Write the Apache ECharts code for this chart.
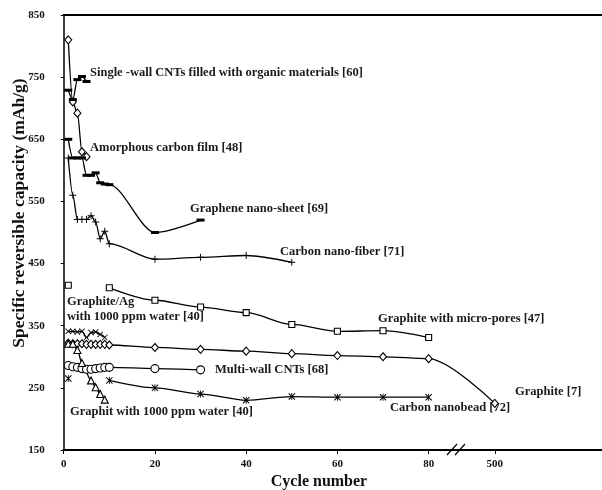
<!DOCTYPE html>
<html><head><meta charset="utf-8">
<script src="https://cdn.jsdelivr.net/npm/echarts@6/dist/echarts.min.js"></script>
<style>html,body{margin:0;padding:0;background:#fff}#c{width:602px;height:490px}</style>
</head><body><div id="c"></div>
<script>
// ---- data ----
const yTickLabels = [150, 250, 350, 450, 550, 650, 750, 850];
const xTickLabels = [0, 20, 40, 60, 80, 500];

const amorphousX = [1, 2, 3, 4, 5];
const amorphousY = [810, 710, 692, 630, 622];

const swcntX = [1, 2, 3, 4, 5];
const swcntY = [729, 714, 746, 751, 743];

const grapheneX = [1, 2, 3, 4, 5, 6, 7, 8, 9, 10, 20, 30];
const grapheneY = [650, 620, 620, 620, 592, 592, 596, 580, 578, 577, 500, 520];

const nanofiberX = [1, 2, 3, 4, 5, 6, 7, 8, 9, 10, 20, 30, 40, 50];
const nanofiberY = [620, 560, 521, 521, 521, 527, 517, 490, 502, 482, 457, 460, 463, 452];

const microporesX = [1, 5, 10, 20, 30, 40, 50, 60, 70, 80];
const microporesY = [415, null, 411, 391, 380, 371, 352, 341, 342, 331];

const graphiteAgX = [1, 2, 3, 4, 5, 6, 7, 8, 9];
const graphiteAgY = [341, 341, 340, 341, 331, 339, 340, 336, 331];

const graphiteX = [1, 2, 3, 4, 5, 6, 7, 8, 9, 10, 20, 30, 40, 50, 60, 70, 80, 500];
const graphiteY = [322, 321, 321, 321, 320, 320, 320, 320, 320, 319, 315, 312, 309, 305, 302, 300, 297, 225];

const mwcntX = [1, 2, 3, 4, 5, 6, 7, 8, 9, 10, 20, 30];
const mwcntY = [286, 284, 283, 281, 280, 280, 281, 282, 283, 283, 281, 279];

const waterX = [1, 2, 3, 4, 6, 7, 8, 9];
const waterY = [321, 321, 311, 290, 262, 251, 240, 231];

const nanobeadX = [1, 5, 10, 20, 30, 40, 50, 60, 70, 80];
const nanobeadY = [265, null, 262, 250, 240, 230, 236, 235, 235, 235];

const annotations = [
  'Single -wall CNTs filled with organic materials [60]',
  'Amorphous carbon film [48]',
  'Graphene nano-sheet [69]',
  'Carbon nano-fiber [71]',
  'Graphite/Ag',
  'with 1000 ppm water [40]',
  'Graphite with micro-pores [47]',
  'Multi-wall CNTs [68]',
  'Graphite [7]',
  'Carbon nanobead [72]',
  'Graphit with 1000 ppm water [40]'
];
const xTitle = 'Cycle number';
const yTitle = 'Specific reversible capacity (mAh/g)';

// ---- broken x scale: 0..80 linear, then 500 placed after the break ----
const BREAK_AT = 86;
function xMap(v) { return v <= 80 ? v : 94.5 + (v - 500) * 0.05; }

const SERIF = '"Liberation Serif", "Times New Roman", serif';
const PLUS = 'path://M4.3,0H5.7V4.3H10V5.7H5.7V10H4.3V5.7H0V4.3H4.3Z';
const CROSS = 'path://M0,1L1,0L5,4L9,0L10,1L6,5L10,9L9,10L5,6L1,10L0,9L4,5Z';
const STAR = 'path://M0,1L1,0L5,4L9,0L10,1L6,5L10,9L9,10L5,6L1,10L0,9L4,5Z M4.4,0H5.6V10H4.4Z';

function mk(name, xs, ys, symbol, size, open) {
  return {
    name, type: 'line', xAxisIndex: 0, yAxisIndex: 0,
    data: xs.map((x, i) => [xMap(x), ys[i] == null ? '-' : ys[i]]),
    symbol, symbolSize: size, showSymbol: true,
    smooth: 0.3, smoothMonotone: 'x', connectNulls: false,
    lineStyle: { color: '#000', width: 1.3 },
    itemStyle: open ? { color: '#fff', borderColor: '#000', borderWidth: 1.1 }
                    : { color: '#000', borderWidth: 0 },
    emphasis: { disabled: true }, animation: false
  };
}

const series = [
  mk('Amorphous carbon film', amorphousX, amorphousY, 'diamond', [7, 8], true),
  mk('Single-wall CNTs', swcntX, swcntY, 'rect', [8, 3], false),
  mk('Graphene nano-sheet', grapheneX, grapheneY, 'rect', [8, 3], false),
  mk('Carbon nano-fiber', nanofiberX, nanofiberY, PLUS, 7, false),
  mk('Graphite with micro-pores', microporesX, microporesY, 'rect', 6, true),
  mk('Graphite/Ag', graphiteAgX, graphiteAgY, CROSS, 6, false),
  mk('Graphite', graphiteX, graphiteY, 'diamond', [7, 8], true),
  mk('Multi-wall CNTs', mwcntX, mwcntY, 'circle', 8, true),
  mk('Graphit with water', waterX, waterY, 'triangle', 7, true),
  mk('Carbon nanobead', nanobeadX, nanobeadY, STAR, 7, false)
];

const xTickPos = xTickLabels.map(xMap);
function xFmt(v) {
  const i = xTickPos.findIndex(p => Math.abs(p - v) < 1e-6);
  return i < 0 ? '' : String(xTickLabels[i]);
}

const chart = echarts.init(document.getElementById('c'), null, { renderer: 'canvas' });
const labelFont = 'bold 12.5px ' + SERIF;
const annPos = [
  [90, 73], [90, 148], [190, 209], [280, 252], [67, 302], [67, 317],
  [378, 319], [215, 370], [515, 392], [390, 408], [70, 412]
];

chart.setOption({
  animation: false,
  backgroundColor: '#fff',
  grid: { left: 63.7, right: 0, top: 15, bottom: 40, containLabel: false },
  xAxis: [{
    type: 'value', min: 0, max: 118, position: 'bottom',
    axisLine: { show: true, onZero: false, lineStyle: { color: '#000', width: 2 } },
    axisTick: { show: true, customValues: xTickPos, length: 4, lineStyle: { color: '#000', width: 1 } },
    axisLabel: { customValues: xTickPos, formatter: xFmt, color: '#111', fontFamily: SERIF, fontWeight: 'bold', fontSize: 11, margin: 9 },
    splitLine: { show: false }
  }, {
    type: 'value', min: 0, max: 118, position: 'top',
    axisLine: { show: true, onZero: false, lineStyle: { color: '#000', width: 2 } },
    axisTick: { show: false }, axisLabel: { show: false }, splitLine: { show: false }
  }],
  yAxis: [{
    type: 'value', min: 150, max: 850,
    axisLine: { show: true, lineStyle: { color: '#000', width: 1.5 } },
    axisTick: { show: true, customValues: yTickLabels, length: 3, lineStyle: { color: '#000', width: 1 } },
    axisLabel: { customValues: yTickLabels, color: '#111', fontFamily: SERIF, fontWeight: 'bold', fontSize: 11, margin: 19 },
    splitLine: { show: false }
  }],
  series
});

const bx = chart.convertToPixel({ xAxisIndex: 0 }, BREAK_AT);
const by = chart.convertToPixel({ yAxisIndex: 0 }, 150);
const graphic = annotations.map((t, i) => ({
  type: 'text', x: annPos[i][0], y: annPos[i][1], silent: true,
  style: { text: t, font: labelFont, fill: '#1a1a1a', textAlign: 'left', textVerticalAlign: 'middle' }
}));
graphic.push({
  type: 'text', x: 319, y: 482, silent: true,
  style: { text: xTitle, font: 'bold 16px ' + SERIF, fill: '#111', textAlign: 'center', textVerticalAlign: 'middle' }
});
graphic.push({
  type: 'text', x: 19, y: 213, rotation: Math.PI / 2, silent: true,
  style: { text: yTitle, font: 'bold 17.5px ' + SERIF, fill: '#111', textAlign: 'center', textVerticalAlign: 'middle' }
});
graphic.push({ type: 'rect', shape: { x: bx - 3, y: by - 3, width: 6, height: 6 }, style: { fill: '#fff' }, silent: true });
graphic.push({ type: 'line', shape: { x1: bx - 9, y1: by + 5, x2: bx + 1, y2: by - 6 }, style: { stroke: '#000', lineWidth: 1.2 }, silent: true });
graphic.push({ type: 'line', shape: { x1: bx - 1, y1: by + 5, x2: bx + 9, y2: by - 6 }, style: { stroke: '#000', lineWidth: 1.2 }, silent: true });
chart.setOption({ graphic });
</script>
</body></html>
